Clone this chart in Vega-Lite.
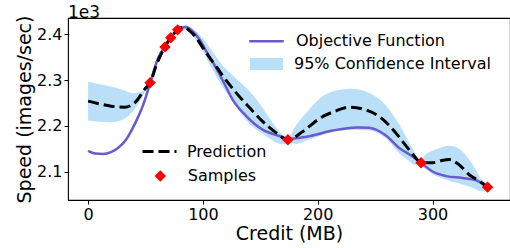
{
  "$schema": "https://vega.github.io/schema/vega-lite/v6.json",
  "width": 442,
  "height": 182,
  "autosize": {"type": "none"},
  "padding": {"left": 68, "top": 18, "right": 0, "bottom": 48},
  "title": {"text": "1e3", "anchor": "start", "frame": "group", "fontSize": 17, "font": "DejaVu Sans", "fontWeight": "normal", "color": "black", "baseline": "alphabetic", "offset": 1, "dx": 0, "dy": 21},
  "datasets": {
    "band": [
      {"x": 0, "lo": 2.212, "hi": 2.296}, {"x": 10, "lo": 2.209, "hi": 2.291}, {"x": 20, "lo": 2.208, "hi": 2.286},
      {"x": 30, "lo": 2.214, "hi": 2.279}, {"x": 40, "lo": 2.235, "hi": 2.271}, {"x": 46, "lo": 2.258, "hi": 2.274},
      {"x": 50, "lo": 2.276, "hi": 2.284}, {"x": 54, "lo": 2.29, "hi": 2.298}, {"x": 60, "lo": 2.332, "hi": 2.339},
      {"x": 67, "lo": 2.369, "hi": 2.375}, {"x": 72, "lo": 2.389, "hi": 2.395}, {"x": 78, "lo": 2.405, "hi": 2.412},
      {"x": 84, "lo": 2.409, "hi": 2.419}, {"x": 90, "lo": 2.398, "hi": 2.413}, {"x": 97, "lo": 2.375, "hi": 2.399},
      {"x": 106, "lo": 2.333, "hi": 2.37}, {"x": 117.7, "lo": 2.283, "hi": 2.33}, {"x": 126, "lo": 2.254, "hi": 2.31},
      {"x": 132, "lo": 2.232, "hi": 2.296}, {"x": 140, "lo": 2.206, "hi": 2.277}, {"x": 149.6, "lo": 2.187, "hi": 2.248},
      {"x": 158, "lo": 2.173, "hi": 2.217}, {"x": 164, "lo": 2.164, "hi": 2.196}, {"x": 170, "lo": 2.16, "hi": 2.18},
      {"x": 174, "lo": 2.163, "hi": 2.176}, {"x": 181.5, "lo": 2.161, "hi": 2.203}, {"x": 193, "lo": 2.171, "hi": 2.237},
      {"x": 199, "lo": 2.176, "hi": 2.254}, {"x": 213, "lo": 2.187, "hi": 2.275}, {"x": 229, "lo": 2.192, "hi": 2.281},
      {"x": 245, "lo": 2.19, "hi": 2.272}, {"x": 260, "lo": 2.172, "hi": 2.243}, {"x": 271, "lo": 2.14, "hi": 2.203},
      {"x": 279, "lo": 2.125, "hi": 2.167}, {"x": 283, "lo": 2.117, "hi": 2.149}, {"x": 289, "lo": 2.114, "hi": 2.127},
      {"x": 295, "lo": 2.105, "hi": 2.14}, {"x": 300, "lo": 2.095, "hi": 2.146}, {"x": 308, "lo": 2.087, "hi": 2.154},
      {"x": 315, "lo": 2.081, "hi": 2.157}, {"x": 322, "lo": 2.076, "hi": 2.152}, {"x": 326, "lo": 2.073, "hi": 2.145},
      {"x": 335, "lo": 2.066, "hi": 2.116}, {"x": 343, "lo": 2.058, "hi": 2.083}, {"x": 348, "lo": 2.06, "hi": 2.072}
    ],
    "obj": [
      {"x": 0, "y": 2.146}, {"x": 6, "y": 2.14}, {"x": 13, "y": 2.139}, {"x": 20, "y": 2.143}, {"x": 26, "y": 2.152},
      {"x": 33, "y": 2.17}, {"x": 39, "y": 2.196}, {"x": 44, "y": 2.222}, {"x": 48, "y": 2.246}, {"x": 54, "y": 2.293},
      {"x": 61, "y": 2.348}, {"x": 68, "y": 2.377}, {"x": 73, "y": 2.395}, {"x": 78, "y": 2.409}, {"x": 85, "y": 2.415},
      {"x": 91, "y": 2.406}, {"x": 97, "y": 2.388}, {"x": 103, "y": 2.362}, {"x": 109, "y": 2.337}, {"x": 117.7, "y": 2.297},
      {"x": 126, "y": 2.257}, {"x": 138, "y": 2.221}, {"x": 152, "y": 2.192}, {"x": 167, "y": 2.178}, {"x": 174, "y": 2.172},
      {"x": 193, "y": 2.178}, {"x": 213, "y": 2.19}, {"x": 234, "y": 2.197}, {"x": 245, "y": 2.196}, {"x": 260, "y": 2.178},
      {"x": 271, "y": 2.152}, {"x": 280, "y": 2.138}, {"x": 289, "y": 2.122}, {"x": 300, "y": 2.101}, {"x": 312, "y": 2.091},
      {"x": 326, "y": 2.087}, {"x": 338, "y": 2.082}, {"x": 348, "y": 2.067}
    ],
    "pred": [
      {"x": 0, "y": 2.254}, {"x": 10, "y": 2.248}, {"x": 20, "y": 2.243}, {"x": 32, "y": 2.241}, {"x": 42, "y": 2.254},
      {"x": 49, "y": 2.279}, {"x": 54, "y": 2.294}, {"x": 60, "y": 2.336}, {"x": 67, "y": 2.372}, {"x": 72, "y": 2.392},
      {"x": 78, "y": 2.409}, {"x": 83, "y": 2.415}, {"x": 88, "y": 2.408}, {"x": 94.5, "y": 2.391}, {"x": 100, "y": 2.37},
      {"x": 106, "y": 2.348}, {"x": 112, "y": 2.328}, {"x": 117.7, "y": 2.308}, {"x": 129, "y": 2.272}, {"x": 141, "y": 2.239},
      {"x": 152, "y": 2.21}, {"x": 164, "y": 2.185}, {"x": 174, "y": 2.17}, {"x": 187, "y": 2.188}, {"x": 202, "y": 2.217},
      {"x": 216, "y": 2.233}, {"x": 228, "y": 2.241}, {"x": 242, "y": 2.235}, {"x": 257, "y": 2.214}, {"x": 268, "y": 2.185},
      {"x": 278.5, "y": 2.152}, {"x": 284, "y": 2.135}, {"x": 290, "y": 2.12}, {"x": 300, "y": 2.12}, {"x": 308, "y": 2.125},
      {"x": 315, "y": 2.127}, {"x": 323, "y": 2.116}, {"x": 332, "y": 2.094}, {"x": 341, "y": 2.08}, {"x": 348, "y": 2.067}
    ],
    "samples": [
      {"x": 54, "y": 2.294}, {"x": 67, "y": 2.372}, {"x": 72, "y": 2.392}, {"x": 78, "y": 2.409},
      {"x": 174, "y": 2.17}, {"x": 290, "y": 2.12}, {"x": 348, "y": 2.067}
    ]
  },
  "encoding": {
    "x": {"field": "x", "type": "quantitative", "scale": {"domain": [-17.5, 367.5], "nice": false, "zero": false},
      "axis": {"values": [0, 100, 200, 300], "title": "Credit (MB)", "titlePadding": 2}}
  },
  "layer": [
    {
      "data": {"name": "band"},
      "mark": {"type": "area", "interpolate": "monotone", "opacity": 1},
      "encoding": {
        "y": {"field": "lo", "type": "quantitative", "scale": {"domain": [2.0391, 2.4348], "nice": false, "zero": false},
          "axis": {"values": [2.1, 2.2, 2.3, 2.4], "format": ".1f", "title": "Speed (images/sec)", "titlePadding": 2}},
        "y2": {"field": "hi"},
        "fill": {"datum": "95% Confidence Interval", "scale": {"range": ["#b9e0f8"]},
          "legend": {"orient": "none", "legendX": 182, "legendY": 29.5, "title": null, "padding": 0, "labelLimit": 400,
            "symbolType": "M-1,-0.36H1V0.36H-1Z", "symbolSize": 1089, "symbolStrokeWidth": 0, "labelOffset": 11}}
      }
    },
    {
      "data": {"name": "obj"},
      "mark": {"type": "line", "interpolate": "monotone", "strokeWidth": 2.5},
      "encoding": {
        "y": {"field": "y", "type": "quantitative", "title": "Speed (images/sec)"},
        "stroke": {"datum": "Objective Function", "scale": {"range": ["#6a5acd"]},
          "legend": {"orient": "none", "legendX": 180, "legendY": 4.75, "title": null, "padding": 0, "labelLimit": 400,
            "symbolType": "stroke", "symbolSize": 1190, "symbolStrokeWidth": 2.5, "labelOffset": 11}}
      }
    },
    {
      "data": {"name": "pred"},
      "mark": {"type": "line", "interpolate": "monotone", "strokeWidth": 3, "color": "black"},
      "encoding": {
        "y": {"field": "y", "type": "quantitative", "title": "Speed (images/sec)"},
        "strokeDash": {"datum": "Prediction", "scale": {"range": [[11, 5]]},
          "legend": {"orient": "none", "legendX": 73, "legendY": 115, "title": null, "padding": 0, "labelLimit": 400,
            "symbolType": "stroke", "symbolSize": 1156, "symbolStrokeWidth": 3, "symbolStrokeColor": "black", "labelOffset": 9}}
      }
    },
    {
      "data": {"name": "samples"},
      "mark": {"type": "point", "filled": true, "color": "red", "size": 130, "opacity": 1},
      "encoding": {
        "y": {"field": "y", "type": "quantitative", "title": "Speed (images/sec)"},
        "shape": {"datum": "Samples", "scale": {"range": ["diamond"]},
          "legend": {"orient": "none", "legendX": 84.3, "legendY": 150, "title": null, "padding": 0, "labelLimit": 400,
            "symbolSize": 130, "symbolFillColor": "red", "symbolStrokeColor": "red", "symbolStrokeWidth": 0, "labelOffset": 19.5}}
      }
    }
  ],
  "config": {
    "font": "DejaVu Sans",
    "view": {"stroke": "black", "strokeWidth": 1.1},
    "axis": {"labelFont": "DejaVu Sans", "labelFontSize": 16, "labelColor": "black", "titleFont": "DejaVu Sans", "titleFontSize": 19,
      "titleFontWeight": "normal", "titleColor": "black", "tickColor": "black", "tickSize": 4, "labelPadding": 2, "domain": false, "grid": false},
    "legend": {"labelFont": "DejaVu Sans", "labelFontSize": 16, "labelColor": "black"}
  }
}
